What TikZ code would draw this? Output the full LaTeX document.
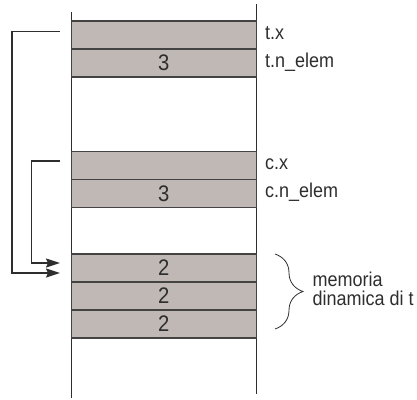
\documentclass[tikz,border=0pt]{standalone}
\usepackage{fontspec}
\setmainfont[FakeStretch=0.9]{Liberation Sans}
\usetikzlibrary{arrows.meta,decorations.pathreplacing,calc}
\definecolor{cellfill}{HTML}{C0B8B5}
\definecolor{ink}{HTML}{2E2E2E}
\newcommand{\celltxt}[1]{\raisebox{-1pt}{#1}}
\begin{document}
\begin{tikzpicture}[x=1pt,y=-1pt,
  cell/.style={draw=ink!90, line width=1.4pt, fill=cellfill, minimum width=185pt, minimum height=28pt,
    inner sep=0pt, outer sep=0pt, anchor=north west, text=ink, font=\fontsize{22.5}{22}\selectfont},
  lbl/.style={anchor=west, text=ink, inner sep=0pt, font=\fontsize{20}{19}\selectfont},
  wall/.style={draw=ink, line width=1pt},
  ptr/.style={draw=ink, line width=1.5pt, -{Stealth[length=14pt,width=9pt,inset=2pt]}}]
\useasboundingbox (0,0) rectangle (417,399);
% memory walls
\coordinate (lt) at (71.3,12);
\coordinate (lb) at (71.3,398);
\coordinate (rt) at (256.3,4);
\coordinate (rb) at (256.3,394);
\draw[wall] (lt) -- (lb);
\draw[wall] (rt) -- (rb);
% cells
\node[cell] (tx) at (71.3,21) {};
\node[cell] (tn) at (71.3,49) {\celltxt{3}};
\node[cell] (cx) at (71.3,151.5) {};
\node[cell] (cn) at (71.3,179.5) {\celltxt{3}};
\node[cell] (d1) at (71.3,254) {\celltxt{2}};
\node[cell] (d2) at (71.3,282) {\celltxt{2}};
\node[cell] (d3) at (71.3,310) {\celltxt{2}};
% labels
\node[lbl] (ltx) at (265,33) {t.x};
\node[lbl] (ltn) at (265,62) {t.n\_elem};
\node[lbl] (lcx) at (265,164) {c.x};
\node[lbl] (lcn) at (265,192) {c.n\_elem};
% pointers
\coordinate (tstart) at ($(tx.west)+(-11.3,-3.7)$);
\coordinate (cstart) at ($(cx.west)+(-11.3,-4.5)$);
\coordinate (tend) at ($(d1.west)+(-11.3,5)$);
\coordinate (cend) at ($(d1.west)+(-11.3,-5)$);
\draw[ptr] (tstart) -- ++(-48,0) |- (tend);
\draw[ptr] (cstart) -- ++(-28.5,0) |- (cend);
% brace
\coordinate (bt) at (275,254);
\coordinate (bb) at (275,329);
\draw[draw=ink, line width=0.8pt, decorate, decoration={brace, amplitude=28pt}] (bt) -- (bb);
\node[lbl, align=left, anchor=west] (mem) at (312.5,289) {memoria\\dinamica di t};
\end{tikzpicture}
\end{document}
